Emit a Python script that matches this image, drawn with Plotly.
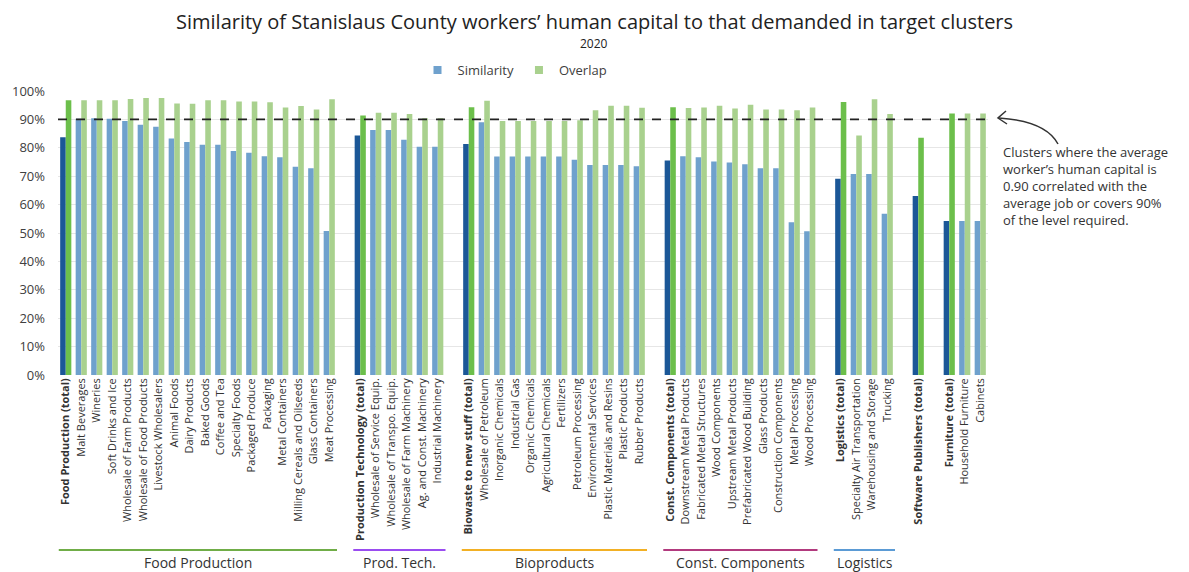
import plotly.graph_objects as go

# ---- data ----
food_labels = ["Food Production (total)", "Malt Beverages", "Wineries", "Soft Drinks and Ice",
               "Wholesale of Farm Products", "Wholesale of Food Products", "Livestock Wholesalers",
               "Animal Foods", "Dairy Products", "Baked Goods", "Coffee and Tea", "Specialty Foods",
               "Packaged Produce", "Packaging", "Metal Containers", "Milling Cereals and Oilseeds",
               "Glass Containers", "Meat Processing"]
food_sim = [83.7, 90.2, 90.4, 90.2, 89.4, 88.1, 87.4, 83.3, 82.0, 81.1, 81.1, 78.9, 78.3, 77.0, 76.7, 73.3, 72.8, 50.7]
food_ovl = [96.7, 96.7, 96.7, 96.7, 97.2, 97.5, 97.5, 95.6, 95.5, 96.7, 96.7, 96.3, 96.3, 96.0, 94.2, 94.7, 93.5, 97.1]

prod_labels = ["Production Technology (total)", "Wholesale of Service Equip.", "Wholesale of Transpo. Equip.",
               "Wholesale of Farm Machinery", "Ag. and Const. Machinery", "Industrial Machinery"]
prod_sim = [84.3, 86.3, 86.3, 82.8, 80.4, 80.4]
prod_ovl = [91.4, 92.3, 92.3, 91.9, 90.4, 90.4]

bio_labels = ["Biowaste to new stuff (total)", "Wholesale of Petroleum", "Inorganic Chemicals", "Industrial Gas",
              "Organic Chemicals", "Agricultural Chemicals", "Fertilizers", "Petroleum Processing",
              "Environmental Services", "Plastic Materials and Resins", "Plastic Products", "Rubber Products"]
bio_sim = [81.3, 89.0, 76.9, 76.9, 76.9, 76.9, 76.9, 75.8, 73.9, 73.9, 73.9, 73.5]
bio_ovl = [94.3, 96.6, 89.4, 89.4, 89.4, 89.4, 89.4, 89.7, 93.2, 94.8, 94.8, 94.1]

const_labels = ["Const. Components (total)", "Downstream Metal Products", "Fabricated Metal Structures",
                "Wood Components", "Upstream Metal Products", "Prefabricated Wood Building", "Glass Products",
                "Construction Components", "Metal Processing", "Wood Processing"]
const_sim = [75.5, 77.0, 76.7, 75.2, 74.8, 74.2, 72.8, 72.8, 53.8, 50.6]
const_ovl = [94.3, 94.0, 94.2, 94.8, 93.8, 95.2, 93.5, 93.5, 93.2, 94.2]

log_labels = ["Logistics (total)", "Specialty Air Transportation", "Warehousing and Storage", "Trucking"]
log_sim = [69.1, 70.8, 70.8, 56.8]
log_ovl = [96.1, 84.3, 97.1, 91.9]

soft_labels = ["Software Publishers (total)"]
soft_sim = [63.0]
soft_ovl = [83.5]

furn_labels = ["Furniture (total)", "Household Furniture", "Cabinets"]
furn_sim = [54.2, 54.2, 54.2]
furn_ovl = [92.1, 92.1, 92.1]

groups = [
    ("Food Production", food_labels, food_sim, food_ovl, "#70AD47"),
    ("Prod. Tech.", prod_labels, prod_sim, prod_ovl, "#9A4CF0"),
    ("Bioproducts", bio_labels, bio_sim, bio_ovl, "#F2B024"),
    ("Const. Components", const_labels, const_sim, const_ovl, "#B23A7E"),
    ("Logistics", log_labels, log_sim, log_ovl, "#5B9BD5"),
    ("", soft_labels, soft_sim, soft_ovl, None),
    ("", furn_labels, furn_sim, furn_ovl, None),
]

SIM_DARK, SIM_LIGHT = "#1B5797", "#6FA1CD"
OVL_DARK, OVL_LIGHT = "#6CBF4B", "#A9D18E"

xs, ticktext, sims, ovls, sim_cols, ovl_cols = [], [], [], [], [], []
group_spans = []
pos = 0
for name, labels, s, o, col in groups:
    start = pos
    for i, lab in enumerate(labels):
        xs.append(pos)
        ticktext.append(f"<b>{lab}</b>" if i == 0 else lab)
        sims.append(s[i] / 100)
        ovls.append(o[i] / 100)
        sim_cols.append(SIM_DARK if i == 0 else SIM_LIGHT)
        ovl_cols.append(OVL_DARK if i == 0 else OVL_LIGHT)
        pos += 1
    group_spans.append((name, start, pos - 1, col))
    pos += 1  # empty gap category

n_total = pos - 1

fig = go.Figure()
fig.add_trace(go.Bar(x=xs, y=sims, name="Similarity", marker=dict(color=sim_cols, line_width=0),
                     showlegend=False))
fig.add_trace(go.Bar(x=xs, y=ovls, name="Overlap", marker=dict(color=ovl_cols, line_width=0),
                     showlegend=False))
fig.add_trace(go.Scatter(x=[None], y=[None], mode="markers", name="Similarity",
                         marker=dict(symbol="square", size=8, color=SIM_LIGHT)))
fig.add_trace(go.Scatter(x=[None], y=[None], mode="markers", name="Overlap",
                         marker=dict(symbol="square", size=8, color=OVL_LIGHT)))

FONT = "Open Sans"
TXT = "#404040"

# page coords -> paper coords (plot area spans page x 58..988, y 91..375)
def px(xp):
    return (xp - 58) / 930
def py(yp):
    return (375 - yp) / 284

shapes = [dict(type="line", xref="paper", yref="y", x0=0, x1=1.0, y0=0.9, y1=0.9,
               line=dict(color="#222", width=1.6, dash="dash"))]
annotations = []
for name, a, b, col in group_spans:
    if not name:
        continue
    shapes.append(dict(type="line", xref="x", yref="paper", x0=a - 0.45, x1=b + 0.5,
                       y0=py(550), y1=py(550), line=dict(color=col, width=2.2)))
    annotations.append(dict(text=name, xref="x", yref="paper", x=(a + b) / 2 + 0.05, y=py(562),
                            showarrow=False, yanchor="middle",
                            font=dict(size=14, color="#333", family=FONT)))

shapes.append(dict(type="path", xref="paper", yref="paper",
                   path=f"M {px(1058)},{py(144)} Q {px(1046)},{py(121)} {px(999)},{py(118)}",
                   line=dict(color="#333", width=1.5)))
shapes.append(dict(type="path", xref="paper", yref="paper",
                   path=f"M {px(1006)},{py(111)} L {px(998)},{py(118)} L {px(1007)},{py(124)}",
                   line=dict(color="#333", width=1.5)))

annotations.append(dict(text="Clusters where the average<br>worker’s human capital is<br>0.90 correlated with the<br>"
                             "average job or covers 90%<br>of the level required.",
                        xref="paper", yref="paper", x=px(1001), y=py(141), xanchor="left", yanchor="top",
                        align="left", showarrow=False, font=dict(size=13, color="#333", family=FONT)))
annotations.append(dict(text="Similarity of Stanislaus County workers’ human capital to that demanded in target clusters",
                        xref="paper", yref="paper", x=px(594), y=py(21), xanchor="center", yanchor="middle",
                        showarrow=False, font=dict(size=20, color="#222", family=FONT)))
annotations.append(dict(text="2020", xref="paper", yref="paper", x=px(594), y=py(43), xanchor="center",
                        yanchor="middle", showarrow=False, font=dict(size=12, color="#222", family=FONT)))

fig.update_layout(
    width=1181, height=564,
    margin=dict(l=50, r=201, t=83, b=197),
    plot_bgcolor="white", paper_bgcolor="white",
    barmode="group", bargap=0.28, bargroupgap=0.0,
    font=dict(family=FONT, color=TXT),
    legend=dict(orientation="h", x=px(515), xanchor="center", y=py(70), yanchor="middle",
                font=dict(size=13, color=TXT), itemwidth=30, bgcolor="rgba(0,0,0,0)",
                tracegroupgap=0),
    shapes=shapes, annotations=annotations,
)
fig.update_xaxes(tickmode="array", tickvals=xs, ticktext=ticktext, tickangle=-90,
                 range=[-0.5, n_total - 0.5], showgrid=False, zeroline=False, showline=False,
                 ticks="", automargin=False, tickfont=dict(size=11, color="#333", family=FONT))
fig.update_yaxes(range=[0, 1.0], dtick=0.1, tickformat=".0%", showgrid=True, gridcolor="#E6E6E6",
                 zeroline=False, showline=False, ticks="", ticklabelstandoff=12, automargin=False,
                 tickfont=dict(size=13, color=TXT, family=FONT))

fig.write_html("out.html")
